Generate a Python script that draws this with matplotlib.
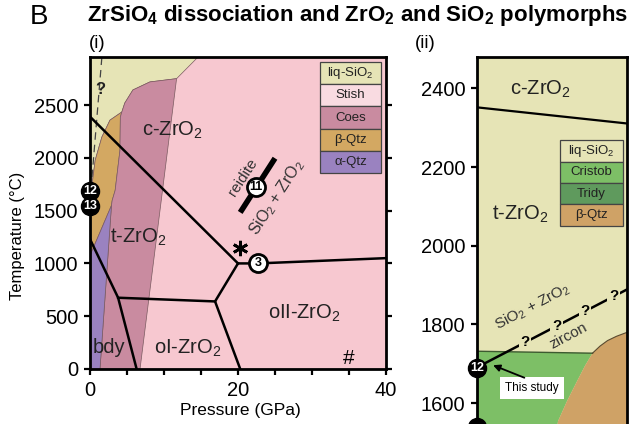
import matplotlib
matplotlib.use("Agg")
import matplotlib.pyplot as plt
from matplotlib.patches import Polygon, Rectangle

plt.rcParams['font.family'] = ['Liberation Sans', 'DejaVu Sans']
plt.rcParams['mathtext.fontset'] = 'custom'
plt.rcParams['mathtext.rm'] = 'Liberation Sans'
plt.rcParams['mathtext.it'] = 'Liberation Sans:italic'
plt.rcParams['mathtext.bf'] = 'Liberation Sans:bold'

# ---------------- colours of the SiO2 fields ----------------
C_LIQ = '#e6e4b6'
C_STISH = '#f7c8d0'
C_STISH_KEY = '#f9dbe1'
C_COES = '#c98ba0'
C_BQTZ = '#d3a862'
C_AQTZ = '#9a82c0'
C_CRIST = '#7dbf66'
C_TRIDY = '#5f9a5d'
C_BQTZ2 = '#cfa266'

# ---------------- (i) P-T diagram, P in GPa, T in degC ----------------
P_MAX, T_MAX = 40, 2955

liq_P = [0, 14.6, 11.7, 8.1, 5.8, 4.7, 4.3, 2.7, 1.6, 0.7, 0.3, 0]
liq_T = [T_MAX, T_MAX, 2750, 2719, 2643, 2519, 2434, 2357, 2196, 1977, 1759, 1597]

bqtz_P = [4.3, 2.7, 1.6, 0.7, 0.3, 0, 0, 2.9, 3.0, 3.4, 4.05, 4.1]
bqtz_T = [2434, 2357, 2196, 1977, 1759, 1597, 1074, 1549, 1597, 1692, 2072, 2386]

coes_P = [11.7, 8.1, 5.8, 4.7, 4.3, 4.1, 4.05, 3.4, 3.0, 2.9, 1.35, 6.76]
coes_T = [2750, 2719, 2643, 2519, 2434, 2386, 2072, 1692, 1597, 1549, 0, 0]

aqtz_P = [0, 2.9, 1.35, 0]
aqtz_T = [1074, 1549, 0, 0]

# uncertain liquidus (dashed, "?")
liq_q_P = [1.6, 0.25]
liq_q_T = [2950, 1800]

# ZrO2 phase boundaries
ct_P, ct_T = [0, 20.0], [2390, 1000]
ctII_P, ctII_T = [20.0, 22.7, 40], [1000, 1000, 1050]
oIoII_P, oIoII_T = [20.0, 16.9, 20.3], [1000, 640, 0]
toI_P, toI_T = [3.8, 16.9], [675, 640]
bdy_P, bdy_T = [0, 3.8, 6.3], [1230, 675, 0]

# reidite / SiO2 + ZrO2 boundary
reid_P, reid_T = [20.3, 25.0], [1483, 1996]

field_names = [r'c-ZrO$_\mathrm{2}$', r't-ZrO$_\mathrm{2}$', r'oI-ZrO$_\mathrm{2}$',
               r'oII-ZrO$_\mathrm{2}$', 'bdy']
field_P = [11.1, 6.5, 13.2, 28.9, 2.6]
field_T = [2262, 1245, 200, 523, 200]

# numbered experiments
open_ids = ['3', '11']
open_P = [22.7, 22.4]
open_T = [1000, 1720]
solid_ids = ['12', '13']
solid_T = [1690, 1540]

key1_labels = [r'liq-SiO$_\mathrm{2}$', 'Stish', 'Coes', 'β-Qtz', 'α-Qtz']
key1_colors = [C_LIQ, C_STISH_KEY, C_COES, C_BQTZ, C_AQTZ]

# ---------------- (ii) zircon dissociation close-up ----------------
T2_MIN, T2_MAX = 1547, 2480
ct2_X, ct2_T = [0, 1], [2352, 2311]
crist_X = [0, 0, 0.77, 0.72, 0.67, 0.60, 0.54, 0.50]
crist_T = [1450, 1732, 1727, 1695, 1658, 1605, 1554, 1450]
bq2_X = [0.77, 0.82, 0.87, 0.93, 1.0, 1.0, 0.50, 0.54, 0.60, 0.67, 0.72]
bq2_T = [1727, 1745, 1759, 1770, 1780, 1450, 1450, 1554, 1605, 1658, 1695]
zrc_X, zrc_T = [0, 1], [1691, 1889]
q_X = [0.32, 0.53, 0.72, 0.91]
key2_labels = [r'liq-SiO$_\mathrm{2}$', 'Cristob', 'Tridy', 'β-Qtz']
key2_colors = [C_LIQ, C_CRIST, C_TRIDY, C_BQTZ2]

# ---------------- figure ----------------
W, H = 638, 424
fig = plt.figure(figsize=(W / 100, H / 100), dpi=100)
ax1 = fig.add_axes([90 / W, 1 - 369 / H, 296 / W, 312 / H])
ax2 = fig.add_axes([477 / W, 0, 150 / W, 1 - 57 / H])

TICK_FS = 14.5

# ----- panel (i)
ax1.set_facecolor(C_STISH)
ax1.set_xlim(0, P_MAX)
ax1.set_ylim(0, T_MAX)
edge = '#7a5a60'
for P, T, c in [(liq_P, liq_T, C_LIQ), (bqtz_P, bqtz_T, C_BQTZ),
                (coes_P, coes_T, C_COES), (aqtz_P, aqtz_T, C_AQTZ)]:
    ax1.add_patch(Polygon(list(zip(P, T)), closed=True, facecolor=c,
                          edgecolor=edge, linewidth=0.5, zorder=1))
ax1.plot(liq_q_P, liq_q_T, color='#444444', lw=0.9, ls=(0, (6, 4)), zorder=2)
ax1.text(1.35, 2643, '?', fontsize=12, fontweight='bold', ha='center',
         va='center', color='#222222', zorder=3)

for P, T in [(ct_P, ct_T), (ctII_P, ctII_T), (oIoII_P, oIoII_T),
             (toI_P, toI_T), (bdy_P, bdy_T)]:
    ax1.plot(P, T, color='black', lw=1.8, zorder=4, solid_joinstyle='miter')
ax1.plot(reid_P, reid_T, color='black', lw=4, zorder=4, solid_capstyle='butt')

for name, P, T in zip(field_names, field_P, field_T):
    ax1.text(P, T, name, fontsize=14.5, ha='center', va='center', color='#222222', zorder=5)

ax1.text(20.7, 1815, 'reidite', rotation=57, fontsize=11, ha='center',
         va='center', color='#333333', zorder=5)
ax1.text(25.3, 1625, r'SiO$_\mathrm{2}$ + ZrO$_\mathrm{2}$', rotation=57,
         fontsize=11.5, ha='center', va='center', color='#333333', zorder=5)
ax1.plot([20.3], [1150], marker=(6, 2, 0), markersize=11, mew=2,
         color='black', zorder=5)
ax1.text(34.9, 95, '#', fontsize=15, ha='center', va='center', zorder=5)

for lab, P, T in zip(open_ids, open_P, open_T):
    ax1.plot([P], [T], 'o', ms=13, mfc='white', mec='black', mew=2, zorder=6)
    ax1.text(P, T, lab, fontsize=9, fontweight='bold', ha='center',
             va='center', zorder=7)
for lab, T in zip(solid_ids, solid_T):
    ax1.plot([0], [T], 'o', ms=13, mfc='black', mec='black', zorder=8, clip_on=False)
    ax1.text(0, T, lab, fontsize=9, fontweight='bold', color='white',
             ha='center', va='center', zorder=9, clip_on=False)

# SiO2 key
k_left, k_right, k_top, k_h = 31.1, 39.3, 2909, 211
for i, (lab, col) in enumerate(zip(key1_labels, key1_colors)):
    y0 = k_top - (i + 1) * k_h
    ax1.add_patch(Rectangle((k_left, y0), k_right - k_left, k_h,
                            facecolor=col, edgecolor='#444444', lw=0.9, zorder=6))
    ax1.text((k_left + k_right) / 2, y0 + k_h / 2, lab, fontsize=9.5,
             ha='center', va='center', color='#222222', zorder=7)

ax1.set_xticks([0, 20, 40])
ax1.set_xticks(range(5, 40, 5), minor=True)
ax1.set_yticks(range(0, 2501, 500))
ax1.tick_params(axis='both', which='both', direction='out', length=4.5,
                width=1.6, labelsize=TICK_FS, pad=4)
ax1.tick_params(axis='y', which='both', right=True)
for s in ax1.spines.values():
    s.set_linewidth(2)

# ----- panel (ii)
ax2.set_facecolor(C_LIQ)
ax2.set_xlim(0, 1)
ax2.set_ylim(T2_MIN, T2_MAX)
ax2.add_patch(Polygon(list(zip(crist_X, crist_T)), closed=True, facecolor=C_CRIST,
                      edgecolor='none', zorder=1))
ax2.add_patch(Polygon(list(zip(bq2_X, bq2_T)), closed=True, facecolor=C_BQTZ2,
                      edgecolor='none', zorder=1))
ax2.plot(crist_X[1:3], crist_T[1:3], color='#3d5a30', lw=1, zorder=2)
ax2.plot(bq2_X[:5], bq2_T[:5], color='#5a4a30', lw=0.8, zorder=2)
ax2.plot(ct2_X, ct2_T, color='black', lw=1.6, zorder=3)

ax2.plot(zrc_X, zrc_T, color='black', lw=1.8, zorder=3)
for x in q_X:
    t = zrc_T[0] + (zrc_T[1] - zrc_T[0]) * x
    ax2.text(x, t, '?', fontsize=11, fontweight='bold', ha='center', va='center',
             zorder=4, bbox=dict(facecolor=C_LIQ, edgecolor='none', pad=1.2))

ax2.text(0.42, 2397, r'c-ZrO$_\mathrm{2}$', fontsize=14.5, ha='center', va='center',
         color='#222222')
ax2.text(0.29, 2081, r't-ZrO$_\mathrm{2}$', fontsize=14.5, ha='center', va='center',
         color='#222222')
ax2.text(0.373, 1846, r'SiO$_\mathrm{2}$ + ZrO$_\mathrm{2}$', rotation=28, fontsize=11,
         ha='center', va='center', color='#333333', zorder=4)
ax2.text(0.61, 1772, 'zircon', rotation=28, fontsize=11, ha='center',
         va='center', color='#333333', zorder=4)

ax2.text(0.367, 1638, 'This study', fontsize=8.5, ha='center', va='center', zorder=6,
         bbox=dict(facecolor='white', edgecolor='none', pad=3.5))
ax2.annotate('', xy=(0.09, 1699), xytext=(0.333, 1662),
             arrowprops=dict(arrowstyle='-|>', color='black', lw=1.3,
                             mutation_scale=10), zorder=6)

# experiment markers on the T axis; no. 13 sits just below the frame
for lab, T in zip(solid_ids, solid_T):
    ax2.plot([0], [T], 'o', ms=13, mfc='black', mec='black', zorder=8, clip_on=False)
    if T > T2_MIN + 15:
        ax2.text(0, T, lab, fontsize=9, fontweight='bold', color='white',
                 ha='center', va='center', zorder=9, clip_on=False)

k2_left, k2_right, k2_top, k2_h = 0.553, 0.973, 2268, 54.25
for i, (lab, col) in enumerate(zip(key2_labels, key2_colors)):
    y0 = k2_top - (i + 1) * k2_h
    ax2.add_patch(Rectangle((k2_left, y0), k2_right - k2_left, k2_h,
                            facecolor=col, edgecolor='#444444', lw=0.9, zorder=6))
    ax2.text((k2_left + k2_right) / 2, y0 + k2_h / 2, lab, fontsize=9.5,
             ha='center', va='center', color='#222222', zorder=7)

ax2.set_xticks([])
ax2.set_yticks(range(1600, 2401, 200))
ax2.tick_params(axis='y', direction='out', length=4.5, width=1.6,
                labelsize=TICK_FS, pad=4)
ax2.spines['bottom'].set_visible(False)
for s in ['left', 'right', 'top']:
    ax2.spines[s].set_linewidth(2)

# ----- titles and axis labels
fig.text(39 / W, 1 - 17 / H, 'B', fontsize=20, ha='center', va='center')
fig.text(87 / W, 1 - 16 / H,
         r'ZrSiO$_\mathbf{4}$ dissociation and ZrO$_\mathbf{2}$ and SiO$_\mathbf{2}$ polymorphs',
         fontsize=16, fontweight='bold', ha='left', va='center')
fig.text(97 / W, 1 - 43 / H, '(i)', fontsize=13.5, ha='center', va='center')
fig.text(425 / W, 1 - 43 / H, '(ii)', fontsize=13.5, ha='center', va='center')
fig.text(18 / W, 1 - 236 / H, 'Temperature (°C)', rotation=90, fontsize=12,
         ha='center', va='center')
fig.text(240 / W, 1 - 411 / H, 'Pressure (GPa)', fontsize=12.5, ha='center', va='center')

fig.savefig('out.png', dpi=100)
